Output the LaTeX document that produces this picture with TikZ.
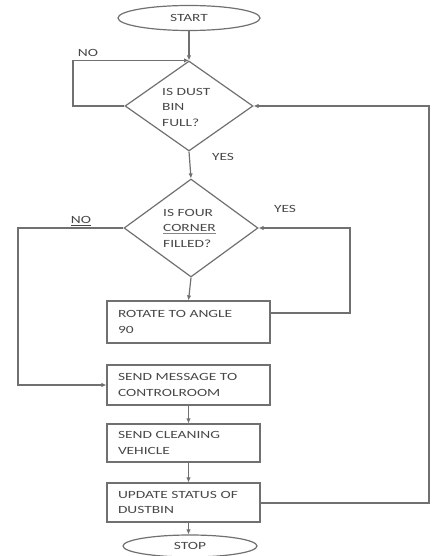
\documentclass[tikz,border=0pt]{standalone}
\usepackage{fontspec}
\setmainfont{Carlito}[FakeStretch=1.4]
\usetikzlibrary{shapes.geometric,arrows.meta}
\definecolor{ln}{HTML}{707070}
\definecolor{tx}{HTML}{484848}
\definecolor{ulg}{HTML}{6E9A5A}
\begin{document}
\begin{tikzpicture}[x=1pt,y=-1pt,
  every node/.style={font=\fontsize{11}{15.5}\selectfont, text=tx},
  lbl/.style={inner sep=0pt, align=left},
  box/.style={draw=ln, line width=1.2pt, rectangle, inner xsep=11pt, inner ysep=0pt, align=left},
  term/.style={draw=ln, line width=1.2pt, ellipse, inner sep=0pt},
  dec/.style={draw=ln, line width=1.2pt, diamond, inner sep=0pt},
  arr/.style={draw=ln, line width=1.2pt, -{Latex[length=5pt,width=4.5pt]}}]
\path[use as bounding box] (0,0) rectangle (435,556);

% shapes
\node[term, minimum width=142pt, minimum height=25pt] (start) at (189,18) {START};
\node[dec, minimum width=128pt, minimum height=90pt] (d1) at (189,106) {};
\node[lbl, anchor=west] (t1) at (162,107) {IS DUST\\BIN\\FULL?};
\node[dec, minimum width=134pt, minimum height=98pt] (d2) at (191,228) {};
\node[lbl, anchor=west] (t2) at (163,228) {IS FOUR\\{\color{ulg}\underline{\color{tx}CORNER}}\\FILLED?};
\node[box, minimum width=163pt, minimum height=42pt, text width=141pt] (rot) at (188.5,322) {ROTATE TO ANGLE\\90};
\node[box, minimum width=163pt, minimum height=40pt, text width=141pt] (msg) at (188.5,385) {SEND MESSAGE TO\\CONTROLROOM};
\node[box, minimum width=153pt, minimum height=38pt, text width=131pt] (clean) at (183.5,443) {SEND CLEANING\\VEHICLE};
\node[box, minimum width=153pt, minimum height=39pt, text width=131pt] (upd) at (183.5,502.5) {UPDATE STATUS OF\\DUSTBIN};
\node[term, minimum width=134pt, minimum height=22pt] (stop) at (190,546) {STOP};

% labels
\node[lbl] (no1) at (88,53) {NO};
\node[lbl] (yes1) at (223,157) {YES};
\node[lbl] (no2) at (81,221) {\underline{NO}};
\node[lbl] (yes2) at (285,209) {YES};

% coordinates
\coordinate (c1) at (73,106);
\coordinate (c2) at (18,228);
\coordinate (c3) at (350,313);
\coordinate (c4) at (429,503);

% connectors
\draw[arr] (start.south) -- (d1.north);
\draw[arr] (d1.west) -- (c1) |- (d1.north);
\draw[arr] (d1.south) -- (d2.north);
\draw[arr] (d2.west) -- (c2) |- (msg.west);
\draw[arr] (d2.south) -- (rot.north);
\draw[arr] (rot.east |- c3) -- (c3) |- (d2.east);
\draw[arr] (msg.south) -- (msg.south |- clean.north);
\draw[arr] (clean.south -| msg.south) -- (msg.south |- upd.north);
\draw[arr] (upd.south -| msg.south) -- (msg.south |- stop.north);
\draw[arr] (upd.east |- c4) -- (c4) |- (d1.east);
\end{tikzpicture}
\end{document}
